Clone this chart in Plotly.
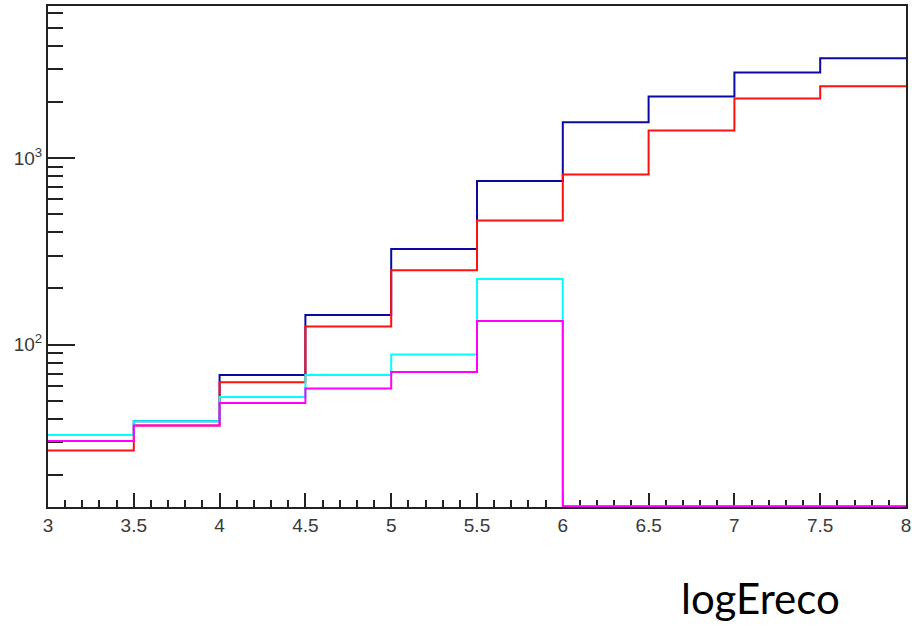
import plotly.graph_objects as go

# Bin edges (logEreco)
bin_edges = [3.0, 3.5, 4.0, 4.5, 5.0, 5.5, 6.0, 6.5, 7.0, 7.5, 8.0]

# Histogram contents
blue_vals = [32.8, 38.8, 68.7, 144, 325, 752, 1554, 2133, 2869, 3421]
red_vals = [27.1, 36.9, 62.8, 124.9, 250, 462, 815, 1402, 2081, 2423]
cyan_vals = [32.8, 38.8, 52.4, 68.7, 88.4, 224.7, 0, 0, 0, 0]
magenta_vals = [30.4, 36.9, 48.6, 58.1, 71.3, 133.8, 0, 0, 0, 0]

# Axis settings
y_log_range = [1.1297, 3.8146]
y_major_vals = [100, 1000]
y_major_text = ["10<sup>2</sup>", "10<sup>3</sup>"]
y_minor_vals = [20, 30, 40, 50, 60, 70, 80, 90,
                200, 300, 400, 500, 600, 700, 800, 900,
                2000, 3000, 4000, 5000, 6000]
x_tick_vals = [3, 3.5, 4, 4.5, 5, 5.5, 6, 6.5, 7, 7.5, 8]
x_tick_text = ["3", "3.5", "4", "4.5", "5", "5.5", "6", "6.5", "7", "7.5", "8"]

ymin_draw = 10 ** (y_log_range[0] + 0.004)


def step_xy(vals):
    ys = [max(v, ymin_draw) for v in vals]
    return bin_edges, ys + [ys[-1]]


fig = go.Figure()
for vals, col in [(blue_vals, "#0a0aa0"), (red_vals, "#ff1010"),
                  (cyan_vals, "#00ffff"), (magenta_vals, "#ff00ff")]:
    xs, ys = step_xy(vals)
    fig.add_trace(go.Scatter(x=xs, y=ys, mode="lines", line_shape="hv",
                             line=dict(color=col, width=2), showlegend=False,
                             hoverinfo="skip"))

axis_font = dict(family="Liberation Sans, Arial, sans-serif", size=19, color="#3a3a3a")

fig.update_layout(
    width=912, height=626,
    margin=dict(l=48, r=6, t=6, b=119, pad=0),
    paper_bgcolor="white", plot_bgcolor="white",
    showlegend=False,
    xaxis=dict(
        range=[3, 8], showgrid=False, zeroline=False, automargin=False,
        showline=True, linecolor="#222222", linewidth=2, mirror=True,
        tickmode="array", tickvals=x_tick_vals, ticktext=x_tick_text,
        ticks="inside", ticklen=14, tickwidth=2, tickcolor="#222222",
        minor=dict(dtick=0.1, tick0=3, ticks="inside", ticklen=7,
                   tickwidth=2, tickcolor="#222222", showgrid=False),
        tickfont=axis_font, layer="below traces", ticklabeloverflow="allow",
    ),
    yaxis=dict(
        type="log", range=y_log_range, showgrid=False, zeroline=False,
        automargin=False,
        showline=True, linecolor="#222222", linewidth=2, mirror=True,
        tickmode="array", tickvals=y_major_vals, ticktext=y_major_text,
        ticks="inside", ticklen=27, tickwidth=2, tickcolor="#222222",
        minor=dict(tickmode="array", tickvals=y_minor_vals, ticks="inside",
                   ticklen=15, tickwidth=2, tickcolor="#222222", showgrid=False),
        tickfont=axis_font, layer="below traces", ticklabeloverflow="allow",
    ),
    annotations=[dict(
        text="logEreco", xref="paper", yref="paper",
        x=(842 - 48) / (906 - 48), y=-(598 - 507) / (507 - 6),
        xanchor="right", yanchor="middle", showarrow=False,
        font=dict(family="Lato, sans-serif", size=42, color="black"),
    )],
)

fig.write_html(
    "out.html",
    config={"displayModeBar": False},
    post_script="document.body.style.margin='0';document.body.style.overflow='hidden';",
)
